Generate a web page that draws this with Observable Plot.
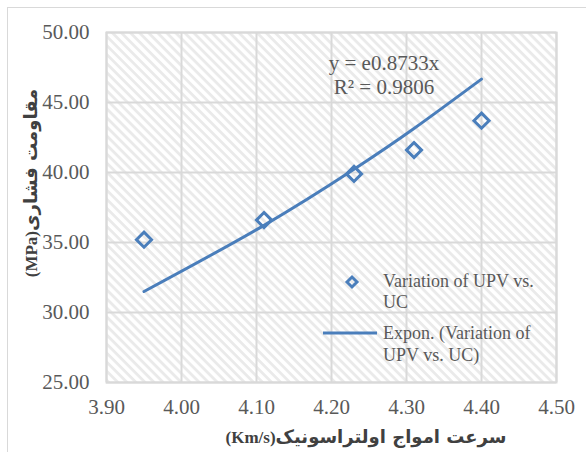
<!DOCTYPE html>
<html>
<head>
<meta charset="utf-8">
<script src="https://cdn.jsdelivr.net/npm/d3@7"></script>
<script src="https://cdn.jsdelivr.net/npm/@observablehq/plot@0.6"></script>
<style>
  html, body { margin: 0; padding: 0; background: #fff; overflow: hidden; }
  #wrap { position: relative; width: 586px; height: 452px; overflow: hidden; }
  #border { position: absolute; left: 7px; top: 7px; width: 620px; height: 500px; border: 1.5px solid #d9d9d9; box-sizing: border-box; }
  #chart { position: absolute; left: 0; top: 0; }
  .ov { position: absolute; font-family: "Liberation Serif", "Times New Roman", serif; color: #595959; white-space: nowrap; }
  .title { font-weight: bold; color: #404040; font-size: 17px; }
  .title .fa { font-family: "DejaVu Sans", sans-serif; font-size: 18px; }
</style>
</head>
<body>
<div id="wrap">
  <div id="border"></div>
  <div id="chart"></div>
  <div class="ov" id="eq" style="left:284px; top:51px; width:200px; text-align:center; font-size:21px; line-height:24px;">y = e0.8733x<br>R² = 0.9806</div>
  <div class="ov" id="leg" style="left:0; top:0;">
    <svg width="586" height="452" style="position:absolute;left:0;top:0;overflow:visible">
      <path d="M352,277 L357,282 L352,287 L347,282 Z" fill="none" stroke="#4a7ebb" stroke-width="3"/>
      <line x1="323" x2="377" y1="333" y2="333" stroke="#4a7ebb" stroke-width="3"/>
    </svg>
    <div style="position:absolute; left:383px; top:271px; font-size:18px; line-height:21px;">Variation of UPV vs.<br>UC</div>
    <div style="position:absolute; left:383px; top:322px; font-size:18px; line-height:22px;">Expon. (Variation of<br>UPV vs. UC)</div>
  </div>
  <div class="ov title" id="xtitle" dir="rtl" style="left:366px; top:437px; transform: translate(-50%,-50%);"><span class="fa">سرعت امواج اولتراسونیک</span>(Km/s)</div>
  <div class="ov title" id="ytitle" dir="rtl" style="left:31px; top:183px; transform: translate(-50%,-50%) rotate(-90deg);"><span class="fa">مقاومت فشاری</span>(MPa)</div>
</div>
<script>
// Data
const upv = [3.95, 4.11, 4.23, 4.31, 4.40];          // ultrasonic pulse velocity (Km/s)
const strength = [35.2, 36.6, 39.9, 41.6, 43.7];     // compressive strength (MPa)
const xTicks = [3.9, 4.0, 4.1, 4.2, 4.3, 4.4, 4.5];
const yTicks = [25, 30, 35, 40, 45, 50];

const points = upv.map((x, i) => ({x, y: strength[i]}));
// Exponential trendline with intercept fixed at 1 (y = e^{bx}), least squares on ln(y)
const b = d3.sum(points, d => d.x * Math.log(d.y)) / d3.sum(points, d => d.x * d.x);
const trend = points.map(d => ({x: d.x, y: Math.exp(b * d.x)}));

const blue = "#4a7ebb";
const grid = "#d9d9d9";

const chart = Plot.plot({
  width: 586,
  height: 452,
  marginLeft: 106,
  marginRight: 30,
  marginTop: 32,
  marginBottom: 70,
  style: {background: "transparent", fontFamily: "'Liberation Serif', 'Times New Roman', serif", fontSize: "21px", color: "#595959"},
  x: {domain: [3.9, 4.5]},
  y: {domain: [25, 50]},
  marks: [
    Plot.frame({fill: "url(#hatch)"}),
    Plot.gridX(xTicks, {stroke: grid, strokeWidth: 2, strokeOpacity: 1}),
    Plot.gridY(yTicks, {stroke: grid, strokeWidth: 2, strokeOpacity: 1}),
    Plot.frame({stroke: grid, strokeWidth: 2}),
    Plot.axisX(xTicks, {tickSize: 0, tickPadding: 17, tickFormat: d3.format(".2f"), label: null, fill: "#595959"}),
    Plot.axisY(yTicks, {tickSize: 0, tickPadding: 17, tickFormat: d3.format(".2f"), label: null, fill: "#595959"}),
    Plot.line(trend, {x: "x", y: "y", stroke: blue, strokeWidth: 3, curve: "natural"}),
    Plot.dot(points, {x: "x", y: "y", symbol: "diamond2", r: 6.8, stroke: blue, strokeWidth: 3, fill: "white", fillOpacity: 0})
  ]
});

d3.select(chart).insert("defs", ":first-child").html(
  '<pattern id="hatch" patternUnits="userSpaceOnUse" width="6.4" height="6.4" patternTransform="rotate(45)">' +
  '<rect width="6.4" height="6.4" fill="#ffffff"/>' +
  '<rect width="6.4" height="2.8" fill="#eaeaea"/></pattern>'
);
document.getElementById("chart").appendChild(chart);
</script>
</body>
</html>
